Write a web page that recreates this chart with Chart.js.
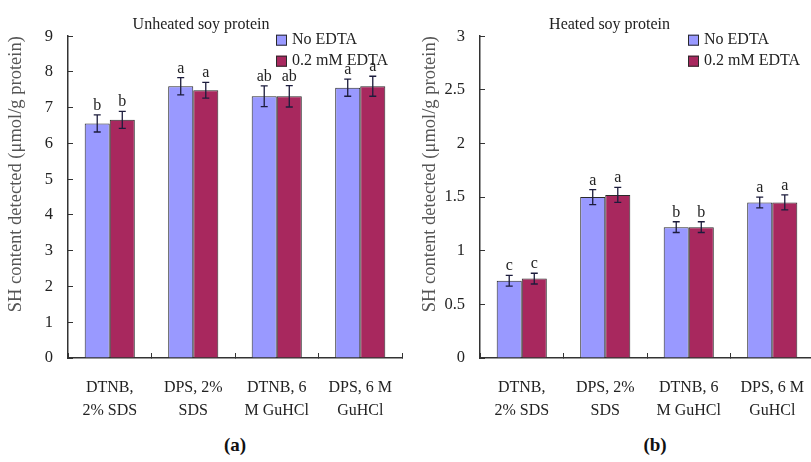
<!DOCTYPE html>
<html>
<head>
<meta charset="utf-8">
<script src="https://cdn.jsdelivr.net/npm/chart.js@4"></script>
<style>
  html, body { margin: 0; padding: 0; background: #fff; overflow: hidden; }
  body { width: 811px; height: 462px; position: relative; }
  .painel { position: absolute; top: 0; width: 424px; height: 430px; }
  .legenda { position: absolute; top: 434px; font: bold 19px "Liberation Serif", serif; color: #111; transform: translateX(-50%); }
</style>
</head>
<body>
<div class="painel" style="left:0"><canvas id="graficoA" width="424" height="430"></canvas></div>
<div class="painel" style="left:405px"><canvas id="graficoB" width="424" height="430"></canvas></div>
<div class="legenda" style="left:235px">(a)</div>
<div class="legenda" style="left:655px">(b)</div>
<script>
// Categorias (eixo x) e séries
const categorias = [['DTNB,', '2% SDS'], ['DPS, 2%', 'SDS'], ['DTNB, 6', 'M GuHCl'], ['DPS, 6 M', 'GuHCl']];
const series = ['No EDTA', '0.2 mM EDTA'];

// (a) proteína de soja não aquecida
const naoAquecidoSemEdta = [6.56, 7.60, 7.32, 7.56];
const naoAquecidoComEdta = [6.66, 7.49, 7.32, 7.60];
const naoAquecidoSemEdtaErro = [0.24, 0.24, 0.29, 0.24];
const naoAquecidoComEdtaErro = [0.24, 0.22, 0.30, 0.28];
const naoAquecidoLetras = [['b', 'a', 'ab', 'a'], ['b', 'a', 'ab', 'a']];

// (b) proteína de soja aquecida
const aquecidoSemEdta = [0.72, 1.50, 1.22, 1.45];
const aquecidoComEdta = [0.74, 1.52, 1.22, 1.45];
const aquecidoSemEdtaErro = [0.05, 0.07, 0.05, 0.05];
const aquecidoComEdtaErro = [0.05, 0.07, 0.05, 0.07];
const aquecidoLetras = [['c', 'a', 'b', 'a'], ['c', 'a', 'b', 'a']];

const CORES = {
    azul: '#9999FF',
    vinho: '#A8285E',
    borda: '#2a2a2a',
    texto: '#222222',
    tituloEixo: '#555555',
    erro: '#1c1c3c'
};
const FONTE = '"Liberation Serif", "Times New Roman", serif';

// Barras de erro e letras de significância
const pluginErros = {
    id: 'erros',
    afterDatasetsDraw(chart, args, opts) {
        const ctx = chart.ctx;
        const y = chart.scales.y;
        ctx.save();
        chart.data.datasets.forEach((ds, d) => {
            const meta = chart.getDatasetMeta(d);
            meta.data.forEach((barra, i) => {
                const v = ds.data[i];
                const e = opts.erros[d][i];
                const yAlto = y.getPixelForValue(v + e);
                const yBaixo = y.getPixelForValue(v - e);
                ctx.strokeStyle = CORES.erro;
                ctx.lineWidth = 1.3;
                ctx.beginPath();
                ctx.moveTo(barra.x, yAlto); ctx.lineTo(barra.x, yBaixo);
                ctx.moveTo(barra.x - 3.5, yAlto); ctx.lineTo(barra.x + 3.5, yAlto);
                ctx.moveTo(barra.x - 3.5, yBaixo); ctx.lineTo(barra.x + 3.5, yBaixo);
                ctx.stroke();
                ctx.fillStyle = CORES.texto;
                ctx.font = '16px ' + FONTE;
                ctx.textAlign = 'center';
                ctx.textBaseline = 'alphabetic';
                ctx.fillText(opts.letras[d][i], barra.x, yAlto - 5);
            });
        });
        ctx.restore();
    }
};

// Legenda vertical no canto superior direito da área do gráfico
const pluginLegenda = {
    id: 'legendaCanto',
    afterDraw(chart) {
        const ctx = chart.ctx;
        const area = chart.chartArea;
        ctx.save();
        ctx.font = '16px ' + FONTE;
        ctx.textBaseline = 'middle';
        ctx.textAlign = 'left';
        chart.data.datasets.forEach((ds, d) => {
            const x = area.right - 126;
            const yc = area.top + 4 + d * 21;
            ctx.fillStyle = ds.backgroundColor;
            ctx.fillRect(x, yc - 5.5, 11, 11);
            ctx.strokeStyle = CORES.borda;
            ctx.lineWidth = 1;
            ctx.strokeRect(x + 0.5, yc - 5, 10, 10);
            ctx.fillStyle = CORES.texto;
            ctx.fillText(ds.label, x + 16, yc);
        });
        ctx.restore();
    }
};

function criarGrafico(canvas, titulo, semEdta, comEdta, erros, letras, yMax, passo, larguraEixoY, paddingTitulo, direita) {
    return new Chart(canvas.getContext('2d'), {
        type: 'bar',
        data: {
            labels: categorias,
            datasets: [
                { label: series[0], data: semEdta, backgroundColor: CORES.azul, borderColor: CORES.borda, borderWidth: 1 },
                { label: series[1], data: comEdta, backgroundColor: CORES.vinho, borderColor: CORES.borda, borderWidth: 1 }
            ]
        },
        plugins: [pluginErros, pluginLegenda],
        options: {
            responsive: false,
            animation: false,
            layout: { padding: { right: direita, left: 0, top: 0, bottom: 0 } },
            datasets: { bar: { categoryPercentage: 0.6, barPercentage: 1.0 } },
            plugins: {
                legend: { display: false },
                tooltip: { enabled: false },
                title: {
                    display: true,
                    text: titulo,
                    color: CORES.texto,
                    font: { family: FONTE, size: 16, weight: 'normal' },
                    padding: { top: 15, bottom: 2 }
                },
                erros: { erros: erros, letras: letras }
            },
            scales: {
                x: {
                    grid: { drawOnChartArea: false, tickLength: -5, color: '#333', lineWidth: 1 },
                    border: { color: '#333', width: 1.5 },
                    ticks: { color: CORES.texto, padding: 23, maxRotation: 0, font: { family: FONTE, size: 16, lineHeight: 1.45 } },
                    afterFit: s => { s.height = 72; }
                },
                y: {
                    min: 0,
                    max: yMax,
                    ticks: {
                        stepSize: passo,
                        color: CORES.texto,
                        padding: 20,
                        font: { family: FONTE, size: 16.5 },
                        callback: v => String(v)
                    },
                    grid: { drawOnChartArea: false, tickLength: -5, color: '#333', lineWidth: 1 },
                    border: { color: '#333', width: 1.5 },
                    title: {
                        display: true,
                        text: 'SH content detected (μmol/g protein)',
                        color: CORES.tituloEixo,
                        align: 'end',
                        font: { family: FONTE, size: 18.5 },
                        padding: { top: paddingTitulo, bottom: 0 }
                    },
                    afterFit: s => { s.width = larguraEixoY; }
                }
            }
        }
    });
}

criarGrafico(document.getElementById('graficoA'), 'Unheated soy protein',
    naoAquecidoSemEdta, naoAquecidoComEdta, [naoAquecidoSemEdtaErro, naoAquecidoComEdtaErro], naoAquecidoLetras,
    9, 1, 68, 5, 22);

criarGrafico(document.getElementById('graficoB'), 'Heated soy protein',
    aquecidoSemEdta, aquecidoComEdta, [aquecidoSemEdtaErro, aquecidoComEdtaErro], aquecidoLetras,
    3, 0.5, 75, 14, 15);
</script>
</body>
</html>
